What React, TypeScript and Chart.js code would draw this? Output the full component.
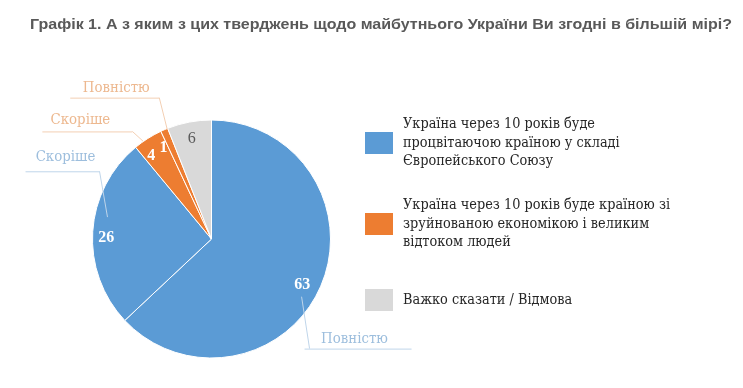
import React, { useEffect, useRef } from 'react';
import { Chart, registerables } from 'chart.js';

Chart.register(...registerables);

const titleText =
  'Графік 1. А з яким з цих тверджень щодо майбутнього України Ви згодні в більшій мірі?';

const sliceLabels = ['Повністю', 'Скоріше', 'Скоріше', 'Повністю', 'Важко сказати / Відмова'];
const sliceValues = [63, 26, 4, 1, 6];
const sliceColors = ['#5B9BD5', '#5B9BD5', '#ED7D31', '#ED7D31', '#D9D9D9'];
const valueLabelColors = ['#FFFFFF', '#FFFFFF', '#FFFFFF', '#FFFFFF', '#595959'];
const valueLabelBold = [true, true, true, true, false];

const legendTexts = [
  ['Україна через 10 років буде', 'процвітаючою країною у складі', 'Європейського Союзу'],
  ['Україна через 10 років буде країною зі', 'зруйнованою економікою і великим', 'відтоком людей'],
  ['Важко сказати / Відмова'],
];
const legendColors = ['#5B9BD5', '#ED7D31', '#D9D9D9'];

// callout styling / placement (relative to pie centre, in units of radius)
const calloutLayout = [
  { slice: 0, sx: 0.757, sy: 0.485, kx: 0.824, ky: 0.921, ul: -5, ur: 102, tdx: 45, tdy: -9, text: '#9DBEDD', line: '#BFD5EA' },
  { slice: 1, sx: -0.874, sy: -0.184, kx: -0.941, ky: -0.569, ul: -74, ur: 0, tdx: -34, tdy: -14, text: '#9DBEDD', line: '#BFD5EA' },
  { slice: 2, sx: -0.573, sy: -0.82, kx: -0.665, ky: -0.904, ul: -90, ur: 0, tdx: -52, tdy: -11, text: '#EDB88F', line: '#F3CFB3' },
  { slice: 3, sx: -0.372, sy: -0.921, kx: -0.439, ky: -1.188, ul: -89, ur: 0, tdx: -43, tdy: -9, text: '#EDB88F', line: '#F3CFB3' },
];
// value label placement: radius fraction and angular nudge (degrees)
const valueLabelRadius = [0.855, 0.885, 0.862, 0.864, 0.86];
const valueLabelAngleNudge = [3.4, -3.2, -3.6, -4.4, -0.3];
const legendGroupCentersY = [143, 224, 300];

const SERIF = '"DejaVu Serif", "Liberation Serif", serif';
const SERIF_SIZE = 14;
// horizontal condensing so DejaVu Serif matches a Times-like width
const CALIBRATION_TEXT = 'Україна через 10 років буде';
const CALIBRATION_WIDTH = 192;

function drawText(
  ctx: CanvasRenderingContext2D,
  text: string,
  x: number,
  y: number,
  k: number,
  align: CanvasTextAlign
) {
  ctx.save();
  ctx.translate(x, y);
  ctx.scale(k, 1);
  ctx.textAlign = align;
  ctx.textBaseline = 'middle';
  ctx.fillText(text, 0, 0);
  ctx.restore();
}

const overlayPlugin = {
  id: 'overlay',
  afterDraw(chart: any) {
    const ctx: CanvasRenderingContext2D = chart.ctx;
    const meta = chart.getDatasetMeta(0);
    const arcs = meta.data;

    // title
    ctx.save();
    ctx.font = 'bold 15.5px "Liberation Sans", Arial, sans-serif';
    ctx.fillStyle = '#595959';
    ctx.textBaseline = 'middle';
    ctx.textAlign = 'left';
    const tw = ctx.measureText(titleText).width;
    ctx.translate(30, 25);
    ctx.scale(702 / tw, 1);
    ctx.fillText(titleText, 0, 0);
    ctx.restore();

    ctx.save();
    ctx.font = `${SERIF_SIZE}px ${SERIF}`;
    const k = CALIBRATION_WIDTH / ctx.measureText(CALIBRATION_TEXT).width;
    ctx.restore();

    // value labels
    arcs.forEach((arc: any, i: number) => {
      const p = arc.getProps(['x', 'y', 'startAngle', 'endAngle', 'outerRadius'], true);
      const mid = (p.startAngle + p.endAngle) / 2 + (valueLabelAngleNudge[i] * Math.PI) / 180;
      const r = p.outerRadius * valueLabelRadius[i];
      const px = p.x + Math.cos(mid) * r;
      const py = p.y + Math.sin(mid) * r;
      ctx.save();
      ctx.font = (valueLabelBold[i] ? 'bold ' : '') + '16px "Liberation Serif", "DejaVu Serif", serif';
      ctx.fillStyle = valueLabelColors[i];
      drawText(ctx, String(sliceValues[i]), px, py, 1, 'center');
      ctx.restore();
    });

    // callouts
    calloutLayout.forEach((c) => {
      const arc = arcs[c.slice];
      if (!arc) return;
      const p = arc.getProps(['x', 'y', 'outerRadius'], true);
      const R = p.outerRadius;
      const sx = p.x + c.sx * R;
      const sy = p.y + c.sy * R;
      const kx = p.x + c.kx * R;
      const ky = p.y + c.ky * R;
      ctx.save();
      ctx.strokeStyle = c.line;
      ctx.lineWidth = 1;
      ctx.beginPath();
      ctx.moveTo(sx, sy);
      ctx.lineTo(kx, ky);
      ctx.moveTo(kx + c.ul, ky + 0.5);
      ctx.lineTo(kx + c.ur, ky + 0.5);
      ctx.stroke();
      ctx.font = `${SERIF_SIZE + 0.5}px ${SERIF}`;
      ctx.fillStyle = c.text;
      drawText(ctx, sliceLabels[c.slice], kx + c.tdx, ky + c.tdy, k, 'center');
      ctx.restore();
    });

    // legend
    ctx.save();
    ctx.font = `${SERIF_SIZE}px ${SERIF}`;
    const lineH = 18.3;
    legendTexts.forEach((lines, gi) => {
      const cy = legendGroupCentersY[gi];
      ctx.fillStyle = legendColors[gi];
      ctx.fillRect(365, cy - 11, 28, 22);
      ctx.fillStyle = '#262626';
      const top = cy - ((lines.length - 1) * lineH) / 2;
      lines.forEach((ln, li) => {
        drawText(ctx, ln, 403, top + li * lineH, k, 'left');
      });
    });
    ctx.restore();
  },
};

export default function App() {
  const canvasRef = useRef<HTMLCanvasElement | null>(null);

  useEffect(() => {
    document.body.style.margin = '0';
    const canvas = canvasRef.current;
    if (!canvas) return;
    const chart = new Chart(canvas, {
      type: 'pie',
      data: {
        labels: sliceLabels,
        datasets: [
          {
            data: sliceValues,
            backgroundColor: sliceColors,
            borderColor: '#FFFFFF',
            borderWidth: 1,
          },
        ],
      },
      options: {
        responsive: false,
        animation: false,
        layout: { padding: { left: 92, right: 412, top: 119.5, bottom: 29.5 } },
        plugins: {
          legend: { display: false },
          title: { display: false },
          tooltip: { enabled: false },
        },
      },
      plugins: [overlayPlugin],
    });
    return () => chart.destroy();
  }, []);

  return (
    <div style={{ width: 743, height: 388, background: '#FFFFFF' }}>
      <canvas ref={canvasRef} width={743} height={388} style={{ display: 'block' }} />
    </div>
  );
}
